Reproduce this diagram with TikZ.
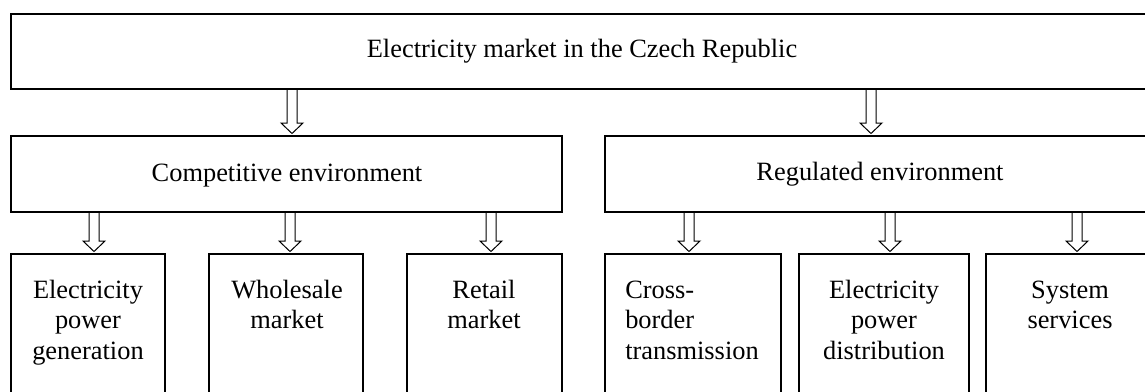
\documentclass[tikz,border=0pt]{standalone}
\usepackage{fontspec}
\setmainfont{Liberation Serif}
\usetikzlibrary{calc}
\begin{document}
\begin{tikzpicture}[x=1pt,y=-1pt,
  box/.style={draw, line width=1.5pt, inner sep=0pt, outer sep=0pt, anchor=north west},
  lbl/.style={inner sep=0pt, font=\fontsize{26.4}{30.5}\selectfont},
  hollow/.style={draw, line width=1pt, to path={let \p1=(\tikztostart), \p2=(\tikztotarget) in
    (\x1-5pt,\y1) -- (\x1-5pt,\y2+13pt) -- (\x1-11pt,\y2+13pt) -- (\x1,\y2+2.5pt)
    -- (\x1+11pt,\y2+13pt) -- (\x1+5pt,\y2+13pt) -- (\x1+5pt,\y1) -- cycle}}]
\useasboundingbox (0,0) rectangle (1145,391);
\clip (0,0) rectangle (1145,391);
% boxes
\node[box, line width=2pt, minimum width=1142pt, minimum height=75pt] (mkt) at (11,14) {};
\node[box, minimum width=551pt, minimum height=76pt] (comp) at (11,136) {};
\node[box, minimum width=549pt, minimum height=76pt] (reg) at (605,136) {};
\node[box, minimum width=154pt, minimum height=160pt] (gen) at (11,254) {};
\node[box, minimum width=154pt, minimum height=160pt] (whs) at (209,254) {};
\node[box, minimum width=155pt, minimum height=160pt] (ret) at (407,254) {};
\node[box, minimum width=176pt, minimum height=160pt] (crb) at (605,254) {};
\node[box, minimum width=170pt, minimum height=160pt] (dst) at (799,254) {};
\node[box, minimum width=168pt, minimum height=160pt] (sys) at (986,254) {};
% texts
\node[lbl, anchor=base] (mkttxt) at (582,57) {Electricity market in the Czech Republic};
\node[lbl, anchor=base] (comptxt) at (287,181) {Competitive environment};
\node[lbl, anchor=base] (regtxt) at (880,180) {Regulated environment};
\node[lbl, anchor=north, align=center] (gentxt) at (88,276.6) {\strut Electricity\\power\\generation};
\node[lbl, anchor=north, align=center] (whstxt) at (287,276.6) {\strut Wholesale\\market};
\node[lbl, anchor=north, align=center] (rettxt) at (484,276.6) {\strut Retail\\market};
\node[lbl, anchor=north, align=left] (crbtxt) at (692,276.6) {\strut Cross-\\border\\transmission};
\node[lbl, anchor=north, align=center] (dsttxt) at (884,276.6) {\strut Electricity\\power\\distribution};
\node[lbl, anchor=north, align=center] (systxt) at (1070,276.6) {\strut System\\services};
% arrow columns
\coordinate (c1) at (292,0);
\coordinate (c2) at (871,0);
\coordinate (d1) at (94,0);
\coordinate (d2) at (290,0);
\coordinate (d3) at (491,0);
\coordinate (d4) at (689,0);
\coordinate (d5) at (890,0);
\coordinate (d6) at (1077,0);
% arrows
\draw[hollow] (mkt.south -| c1) to (comp.north -| c1);
\draw[hollow] (mkt.south -| c2) to (reg.north -| c2);
\draw[hollow] (comp.south -| d1) to (gen.north -| d1);
\draw[hollow] (comp.south -| d2) to (whs.north -| d2);
\draw[hollow] (comp.south -| d3) to (ret.north -| d3);
\draw[hollow] (reg.south -| d4) to (crb.north -| d4);
\draw[hollow] (reg.south -| d5) to (dst.north -| d5);
\draw[hollow] (reg.south -| d6) to (sys.north -| d6);
\end{tikzpicture}
\end{document}
